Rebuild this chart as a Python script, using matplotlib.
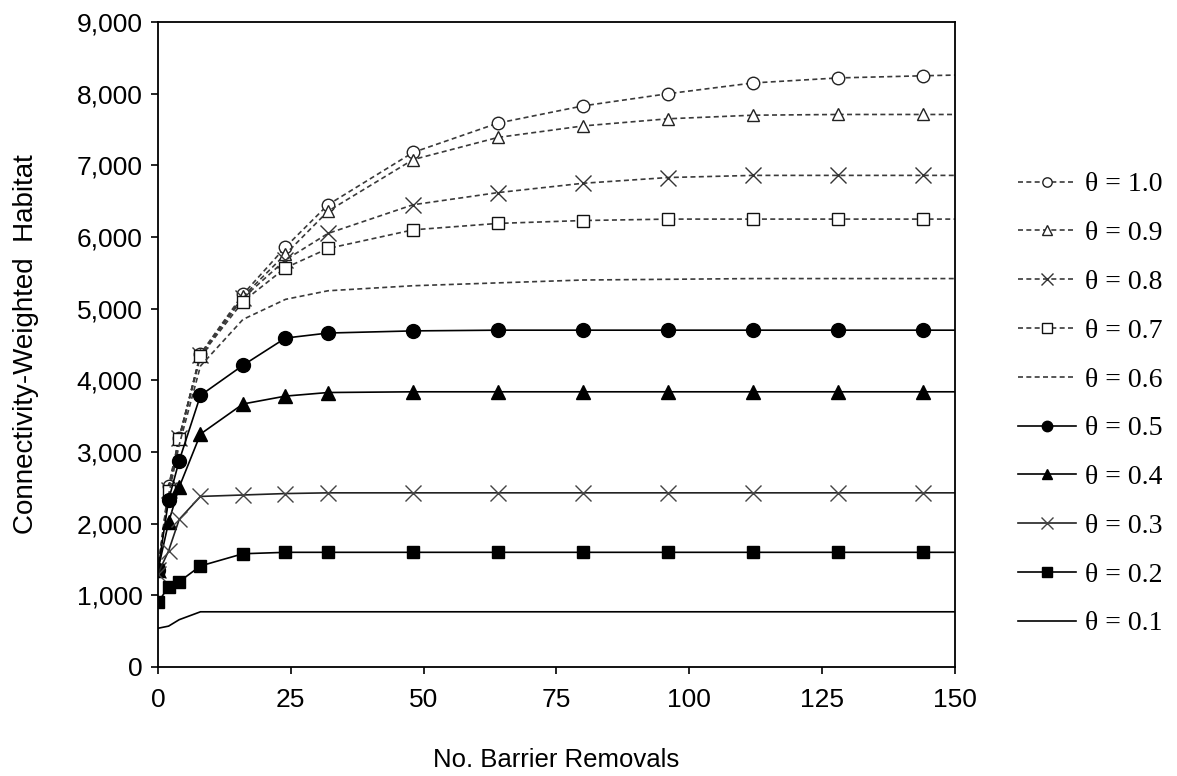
import numpy as np
import matplotlib.pyplot as plt
from matplotlib.ticker import FuncFormatter

# removals (markers drawn at all but the last point)
x = [0, 2, 4, 8, 16, 24, 32, 48, 64, 80, 96, 112, 128, 144, 150]

t10 = [1350, 2520, 3200, 4370, 5200, 5860, 6450, 7180, 7590, 7830, 8000, 8150, 8220, 8250, 8260]
t09 = [1350, 2500, 3200, 4360, 5170, 5760, 6360, 7080, 7390, 7550, 7650, 7700, 7710, 7710, 7710]
t08 = [1350, 2470, 3190, 4350, 5150, 5680, 6050, 6450, 6620, 6750, 6830, 6860, 6860, 6860, 6860]
t07 = [1350, 2450, 3180, 4340, 5100, 5570, 5840, 6100, 6190, 6230, 6250, 6250, 6250, 6250, 6250]
t06 = [1350, 2400, 3100, 4200, 4850, 5130, 5250, 5320, 5360, 5400, 5410, 5420, 5420, 5420, 5420]
t05 = [1350, 2330, 2880, 3790, 4210, 4590, 4660, 4690, 4700, 4700, 4700, 4700, 4700, 4700, 4700]
t04 = [1350, 2020, 2510, 3250, 3670, 3780, 3830, 3840, 3840, 3840, 3840, 3840, 3840, 3840, 3840]
t03 = [1300, 1620, 2060, 2380, 2400, 2420, 2430, 2430, 2430, 2430, 2430, 2430, 2430, 2430, 2430]
t02 = [900, 1120, 1190, 1410, 1580, 1600, 1600, 1600, 1600, 1600, 1600, 1600, 1600, 1600, 1600]
t01 = [540, 570, 660, 770, 770, 770, 770, 770, 770, 770, 770, 770, 770, 770, 770]

labels = ["θ = 1.0", "θ = 0.9", "θ = 0.8", "θ = 0.7", "θ = 0.6",
          "θ = 0.5", "θ = 0.4", "θ = 0.3", "θ = 0.2", "θ = 0.1"]

fig = plt.figure(figsize=(11.77, 7.76), dpi=100)
ax = fig.add_axes([0.1342, 0.1405, 0.6772, 0.8311])

dash = (0, (3, 2))
grey = '#3a3a3a'
mk = list(range(len(x) - 1))

styles = [
    (t10, dict(ls=dash, color=grey, marker='o', mfc='white', mec='#222', ms=9)),
    (t09, dict(ls=dash, color=grey, marker='^', mfc='white', mec='#222', ms=9)),
    (t08, dict(ls=dash, color=grey, marker='x', mec='#333', ms=11, mew=1.0)),
    (t07, dict(ls=dash, color=grey, marker='s', mfc='white', mec='#111', ms=9)),
    (t06, dict(ls=dash, color=grey, marker=None)),
    (t05, dict(ls='-', color='black', marker='o', mfc='black', mec='black', ms=10)),
    (t04, dict(ls='-', color='black', marker='^', mfc='black', mec='black', ms=10)),
    (t03, dict(ls='-', color='#222', marker='x', mec='#444', ms=12, mew=1.0)),
    (t02, dict(ls='-', color='black', marker='s', mfc='black', mec='black', ms=9)),
    (t01, dict(ls='-', color='black', marker=None)),
]

for (y, st), lab in zip(styles, labels):
    if st['marker'] is not None:
        st['markevery'] = mk
    ax.plot(x, y, lw=1.2, label=lab, **st)

ax.set_xlim(0, 150)
ax.set_ylim(0, 9000)
ax.set_xticks(range(0, 151, 25))
ax.set_yticks(range(0, 9001, 1000))
ax.yaxis.set_major_formatter(FuncFormatter(lambda v, p: f"{int(v):,}"))
ax.tick_params(direction='out', length=5, width=1.2, labelsize=19)
ax.tick_params(axis='x', pad=10)
ax.tick_params(axis='y', pad=6)
for lab in ax.get_xticklabels() + ax.get_yticklabels():
    lab.set_family('Liberation Sans')
for s in ax.spines.values():
    s.set_linewidth(1.3)

ax.set_xlabel("No. Barrier Removals", fontsize=18.5, family='Liberation Sans', labelpad=26)
ax.set_ylabel("Connectivity-Weighted  Habitat", fontsize=20, family='Liberation Sans', labelpad=27)

fig.legend(loc='upper left', bbox_to_anchor=(0.8555, 0.7927), frameon=False,
           prop={'family': 'Liberation Serif', 'size': 20},
           handlelength=2.1, handletextpad=0.3, labelspacing=0.84,
           markerscale=0.75, borderaxespad=0)

fig.savefig('out.png', dpi=100)
